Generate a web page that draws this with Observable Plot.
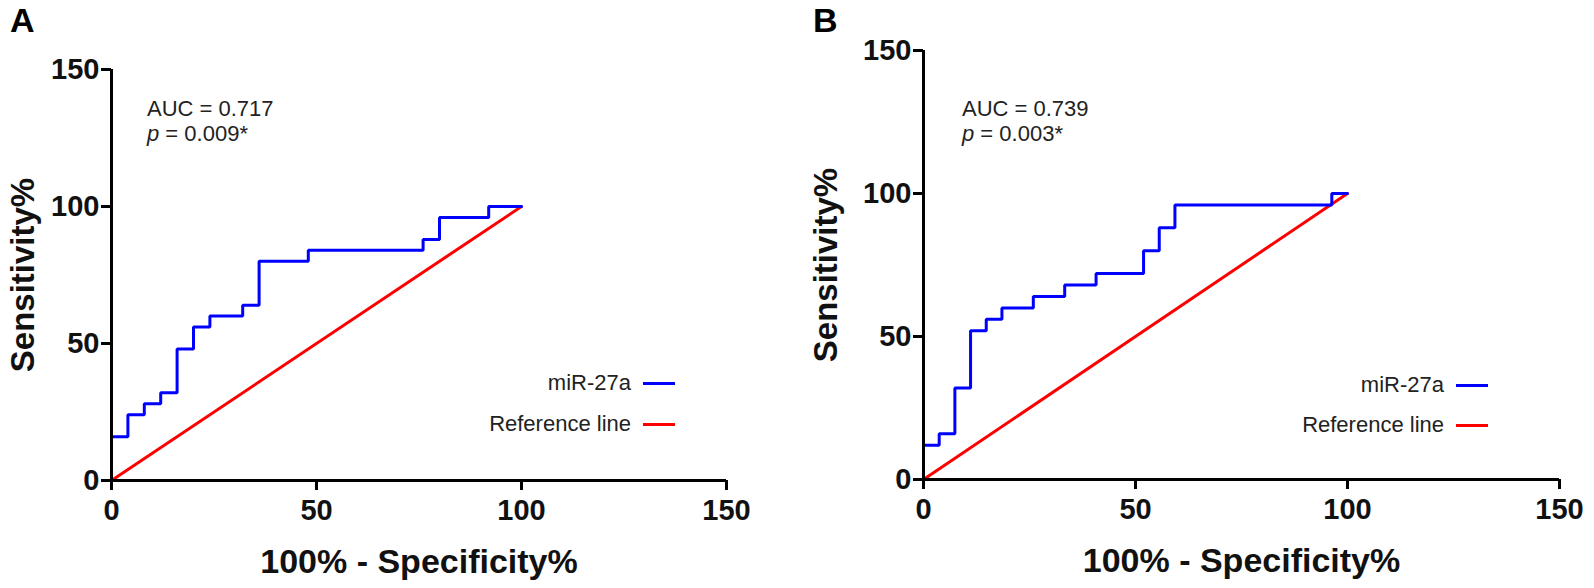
<!DOCTYPE html>
<html>
<head>
<meta charset="utf-8">
<script src="https://cdn.jsdelivr.net/npm/d3@7"></script>
<script src="https://cdn.jsdelivr.net/npm/@observablehq/plot@0.6"></script>
<style>
  html, body { margin: 0; padding: 0; background: #fff; }
  #root { position: relative; width: 1594px; height: 588px; overflow: hidden; font-family: "Liberation Sans", Arial, sans-serif; }
  .panel { position: absolute; top: 0; }
  .letter { position: absolute; font-weight: bold; font-size: 34px; color: #000; line-height: 1; }
  .note { position: absolute; font-size: 22px; color: #222; line-height: 25px; white-space: nowrap; }
  .leg { position: absolute; font-size: 22px; color: #222; white-space: nowrap; text-align: right; line-height: 1; }
  .legline { position: absolute; height: 3px; }
</style>
</head>
<body>
<div id="root"></div>
<script>
// ---- Data ----
const axisTicks = [0, 50, 100, 150];
const xTitle = "100% - Specificity%";
const yTitle = "Sensitivity%";
const seriesNames = ["miR-27a", "Reference line"];
const seriesColors = ["#0000ff", "#ff0000"];

// Panel A: ROC vertices (100% - specificity, sensitivity)
const fprA = [0, 0, 4, 8, 12, 16, 20, 24, 32, 36, 48, 76, 80, 92, 100];
const tprA = [0, 16, 24, 28, 32, 48, 56, 60, 64, 80, 84, 88, 96, 100, 100];
const aucA = "0.717";
const pA = "0.009*";

// Panel B
const fprB = [0, 0, 3.7, 7.4, 11.1, 14.8, 18.5, 25.9, 33.3, 40.7, 51.9, 55.6, 59.3, 96.3, 100];
const tprB = [0, 12, 16, 32, 52, 56, 60, 64, 68, 72, 80, 88, 96, 100, 100];
const aucB = "0.739";
const pB = "0.003*";

const refX = [0, 100];
const refY = [0, 100];

const root = document.getElementById("root");

function makePanel(cfg) {
  const roc = cfg.fpr.map((x, i) => ({x, y: cfg.tpr[i]}));
  const ref = refX.map((x, i) => ({x, y: refY[i]}));
  const plot = Plot.plot({
    width: cfg.width,
    height: 588,
    marginLeft: cfg.ml, marginRight: cfg.mr, marginTop: cfg.mt, marginBottom: cfg.mb,
    x: {domain: [0, 150]},
    y: {domain: [0, 150]},
    style: {background: "transparent", overflow: "visible", fontFamily: "'Liberation Sans', Arial, sans-serif", color: "#111"},
    marks: [
      Plot.line(ref, {x: "x", y: "y", stroke: seriesColors[1], strokeWidth: 3}),
      Plot.line(roc, {x: "x", y: "y", curve: "step-after", stroke: seriesColors[0], strokeWidth: 3, strokeLinejoin: "miter"}),
      Plot.ruleX([0], {y1: 0, y2: 150, stroke: "#000", strokeWidth: 3}),
      Plot.ruleY([0], {x1: 0, x2: 150, stroke: "#000", strokeWidth: 3}),
      Plot.axisX({ticks: axisTicks, tickSize: 10, tickPadding: 9, fontSize: 29, fontWeight: "bold", label: null, strokeWidth: 3, stroke: "#000", fill: "#111"}),
      Plot.axisY({ticks: axisTicks, tickSize: 10, tickPadding: 2, fontSize: 29, fontWeight: "bold", label: null, strokeWidth: 3, stroke: "#000", fill: "#111"}),
      Plot.text([xTitle], {frameAnchor: "bottom", textAnchor: "middle", dy: 82, fontSize: 34, fontWeight: "bold", fill: "#111", lineAnchor: "middle"}),
      Plot.text([yTitle], {frameAnchor: "left", textAnchor: "middle", dx: -cfg.ytOff, rotate: -90, fontSize: 33, fontWeight: "bold", fill: "#111", lineAnchor: "middle"})
    ]
  });
  const wrap = document.createElement("div");
  wrap.className = "panel";
  wrap.style.left = cfg.left + "px";
  wrap.appendChild(plot);
  root.appendChild(wrap);

  const letter = document.createElement("div");
  letter.className = "letter";
  letter.style.left = cfg.letterX + "px";
  letter.style.top = "3px";
  letter.textContent = cfg.letter;
  root.appendChild(letter);

  const note = document.createElement("div");
  note.className = "note";
  note.style.left = cfg.noteX + "px";
  note.style.top = "96px";
  note.innerHTML = `AUC = ${cfg.auc}<br><i>p</i> = ${cfg.p}`;
  root.appendChild(note);

  seriesNames.forEach((name, i) => {
    const t = document.createElement("div");
    t.className = "leg";
    t.style.right = (1594 - cfg.legTextRight) + "px";
    t.style.top = (cfg.legY[i] - 11) + "px";
    t.textContent = name;
    root.appendChild(t);
    const l = document.createElement("div");
    l.className = "legline";
    l.style.left = cfg.legLineX + "px";
    l.style.width = "32px";
    l.style.top = (cfg.legY[i] - 1) + "px";
    l.style.background = seriesColors[i];
    root.appendChild(l);
  });
}

makePanel({
  left: 0, width: 797, ml: 111, mr: 71, mt: 69, mb: 108, ytOff: 88,
  fpr: fprA, tpr: tprA, auc: aucA, p: pA, letter: "A", letterX: 10, noteX: 147,
  legTextRight: 631, legLineX: 643, legY: [383, 424]
});
makePanel({
  left: 797, width: 797, ml: 126, mr: 35, mt: 50, mb: 109, ytOff: 97,
  fpr: fprB, tpr: tprB, auc: aucB, p: pB, letter: "B", letterX: 813, noteX: 962,
  legTextRight: 1444, legLineX: 1456, legY: [385, 425]
});
</script>
</body>
</html>
